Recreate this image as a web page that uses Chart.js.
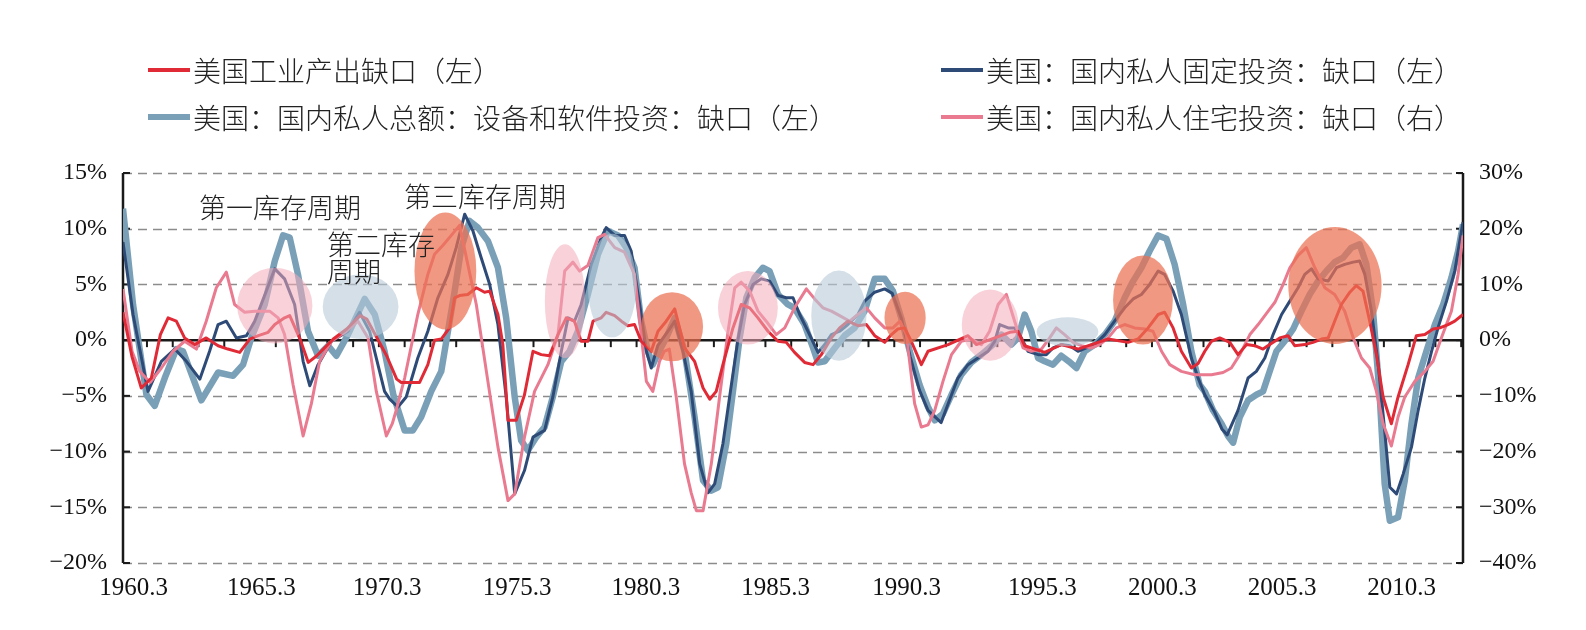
<!DOCTYPE html>
<html>
<head>
<meta charset="utf-8">
<script src="https://cdn.jsdelivr.net/npm/chart.js@4.4.1/dist/chart.umd.min.js"></script>
<style>
  body { margin: 0; background: #fff; }
  #wrap { position: relative; width: 1586px; height: 630px; }
  .leg { position: absolute; display: flex; align-items: center; font-family: "Noto Sans CJK SC", sans-serif; font-weight: 300; font-size: 28px; color: #222; white-space: nowrap; }
  .leg i { display: inline-block; width: 42px; margin-right: 3px; }
</style>
</head>
<body>
<div id="wrap">
  <canvas id="chart" width="1586" height="630"></canvas>
  <div class="leg" style="left:148px; top:50px;"><i style="height:4px;background:#e02a36"></i>美国工业产出缺口（左）</div>
  <div class="leg" style="left:941px; top:50px;"><i style="height:4px;background:#2e4b78"></i>美国：国内私人固定投资：缺口（左）</div>
  <div class="leg" style="left:148px; top:97px;"><i style="height:6px;background:#7aa0b8"></i>美国：国内私人总额：设备和软件投资：缺口（左）</div>
  <div class="leg" style="left:941px; top:97px;"><i style="height:4px;background:#e97a90"></i>美国：国内私人住宅投资：缺口（右）</div>
</div>
<script>
// quarters as decimal years: 1960.0 = "1960.3"
const xTickLabels = ['1960.3', '1965.3', '1970.3', '1975.3', '1980.3', '1985.3', '1990.3', '1995.3', '2000.3', '2005.3', '2010.3'];
// where the reference prints those labels along the time axis
const xTickAt = [1960.16, 1965.12, 1970.0, 1975.04, 1980.04, 1985.08, 1990.16, 1995.43, 2000.08, 2004.73, 2009.37];

// 美国工业产出缺口（左）
const redDates = [
  1959.75, 1960.1, 1960.46, 1960.85, 1961.2, 1961.5, 1961.82, 1962.14, 1962.53, 1962.98, 1963.44, 1963.82, 1964.28, 1964.67, 1965.0, 1965.38, 1965.64, 1966.02, 1966.22, 1966.62, 1966.94, 1967.27, 1967.91, 1968.43, 1968.95, 1969.21, 1969.98,
  1970.37, 1970.55, 1971.26, 1971.58, 1971.84, 1972.1, 1972.42, 1972.62, 1972.81, 1973.13, 1973.46, 1973.78, 1973.98, 1974.3, 1974.49, 1974.69, 1975.01, 1975.33, 1975.66, 1975.98, 1976.3, 1976.63, 1976.95, 1977.27, 1977.53, 1977.79, 1977.99, 1978.31, 1978.5, 1978.83, 1979.09, 1979.34, 1979.6, 1979.86,
  1980.25, 1980.51, 1980.83, 1981.16, 1981.54, 1981.93, 1982.26, 1982.52, 1982.77, 1983.03, 1983.42, 1983.74, 1984.07, 1984.39, 1984.78, 1985.17, 1985.49, 1985.81, 1986.2, 1986.53, 1986.85, 1987.24, 1987.56, 1987.88, 1988.27, 1988.6, 1988.92, 1989.31, 1989.57, 1989.82,
  1990.08, 1990.34, 1990.73, 1990.99, 1991.77, 1992.54, 1992.87, 1993.58, 1994.16, 1994.48, 1994.74, 1995.52, 1996.16, 1996.81, 1997.59, 1997.98, 1998.75, 1999.14, 1999.53, 1999.92,
  2000.17, 2000.5, 2000.82, 2001.21, 2001.47, 2001.73, 2001.99, 2002.31, 2002.7, 2003.02, 2003.35, 2003.67, 2003.99, 2004.25, 2004.64, 2004.96, 2005.22, 2005.61, 2005.93, 2006.26, 2006.52, 2006.77, 2007.03, 2007.36, 2007.61, 2007.87, 2008.13, 2008.39, 2008.65, 2008.97, 2009.23, 2009.62, 2009.94,
  2010.27, 2010.59, 2010.85, 2011.17, 2011.43, 2011.75
];
const redValues = [
  2.5, -1.5, -4.3, -3.4, 0.5, 2.0, 1.7, 0.2, -0.4, 0.2, -0.5, -0.8, -1.1, 0.1, 0.4, 0.7, 1.4, 2.0, 2.2, 0.1, -2.0, -1.4, 0.1, 1.0, 2.2, 1.9, -1.4,
  -3.5, -3.8, -3.8, -2.2, 0.0, 0.1, 1.1, 3.8, 4.0, 4.1, 4.7, 4.3, 4.4, 2.3, -0.4, -7.2, -7.2, -4.9, -1.0, -1.3, -1.4, 0.5, 2.0, 1.7, -0.1, -0.1, 1.7, 2.0, 2.5, 2.2, 1.7, 1.3, 1.4, -0.1,
  -1.0, 0.8, 1.7, 2.8, -0.7, -1.9, -4.3, -5.3, -4.6, -2.2, 1.1, 3.2, 2.9, 2.0, 0.8, -0.1, -0.2, -1.1, -2.0, -2.2, -1.3, 0.2, 1.1, 1.7, 1.3, 1.4, 0.4, -0.2, 0.5, 1.0,
  1.1, -0.1, -2.2, -1.0, -0.4, 0.4, -0.4, 0.2, 0.7, 0.8, -0.5, -1.1, -0.4, -0.8, -0.2, 0.1, -0.2, 0.1, 1.1, 2.3,
  2.5, 1.1, -1.0, -2.5, -2.1, -1.0, -0.1, 0.2, -0.2, -1.3, -0.4, -0.5, -0.8, -0.4, 0.2, 0.4, -0.5, -0.4, -0.2, 0.1, 0.2, 1.7, 3.2, 4.3, 4.9, 4.4, 1.7, -1.3, -5.1, -7.5, -5.1, -2.2, 0.4,
  0.5, 1.0, 1.1, 1.4, 1.7, 2.3
];

// 美国：国内私人固定投资：缺口（左）
const navyDates = [
  1959.75, 1960.14, 1960.72, 1961.24, 1961.76, 1962.21, 1962.73, 1963.11, 1963.44, 1963.76, 1964.15, 1964.54, 1964.86, 1965.31, 1965.64, 1966.02, 1966.41, 1966.74, 1967.0, 1967.32, 1967.84, 1968.48, 1968.93, 1969.32, 1969.9,
  1970.1, 1970.42, 1970.74, 1971.19, 1971.58, 1971.97, 1972.36, 1972.68, 1973.01, 1973.33, 1973.65, 1973.98, 1974.3, 1974.62, 1974.95, 1975.33, 1975.66, 1976.11, 1976.43, 1976.76, 1977.02, 1977.27, 1977.53, 1977.92, 1978.31, 1978.5, 1978.83, 1979.21, 1979.47, 1979.8,
  1980.06, 1980.25, 1980.5, 1980.9, 1981.16, 1981.48, 1981.8, 1982.13, 1982.45, 1982.71, 1983.03, 1983.29, 1983.61, 1983.87, 1984.2, 1984.52, 1984.84, 1985.17, 1985.49, 1985.75, 1986.01, 1986.33, 1986.72, 1986.98, 1987.24, 1987.56, 1987.88, 1988.27, 1988.53, 1988.92, 1989.31, 1989.6, 1989.95,
  1990.3, 1990.66, 1990.99, 1991.5, 1991.77, 1992.15, 1992.54, 1992.93, 1993.32, 1993.58, 1993.77, 1994.1, 1994.35, 1994.61, 1994.87, 1995.26, 1995.58, 1995.84, 1996.16, 1996.49, 1996.81, 1997.13, 1997.46, 1997.85, 1998.23, 1998.62, 1998.95, 1999.27, 1999.59, 1999.92,
  2000.17, 2000.5, 2000.82, 2001.21, 2001.47, 2001.73, 2002.12, 2002.4, 2002.6, 2003.02, 2003.41, 2003.73, 2004.06, 2004.38, 2004.71, 2005.03, 2005.35, 2005.61, 2005.87, 2006.13, 2006.52, 2006.84, 2007.16, 2007.49, 2007.74, 2007.94, 2008.2, 2008.46, 2008.71, 2008.91, 2009.17, 2009.43, 2009.75,
  2010.01, 2010.27, 2010.53, 2010.78, 2011.11, 2011.43, 2011.75
];
const navyValues = [
  8.8, 2.3, -4.6, -1.9, -0.8, -1.9, -3.5, -1.0, 1.4, 1.7, 0.2, 0.4, 1.7, 4.4, 6.4, 5.5, 3.2, -1.9, -4.1, -2.2, -0.1, 0.8, 2.5, 0.8, -4.6,
  -5.3, -6.0, -5.1, -1.6, 0.8, 3.8, 5.9, 8.3, 11.3, 9.8, 7.4, 5.0, 1.4, -5.1, -13.8, -11.7, -8.7, -8.1, -5.1, -1.0, 2.0, 1.7, 3.2, 6.8, 9.2, 10.1, 9.4, 9.4, 8.0, 3.2,
  -1.0, -2.5, -0.5, 0.8, 1.7, -1.0, -4.6, -11.1, -13.7, -12.9, -9.3, -5.1, 0.0, 3.2, 5.0, 5.5, 5.3, 4.0, 3.8, 3.8, 2.3, 0.8, -1.1, -0.4, 0.5, 0.8, 1.4, 2.3, 3.5, 4.3, 4.6, 4.2, 2.0,
  -1.5, -4.5, -6.3, -7.4, -5.7, -3.4, -2.2, -1.6, -1.0, -0.1, 1.4, 1.1, 1.1, 0.2, -1.0, -1.3, -1.3, -0.7, -0.4, -0.5, -1.0, -0.7, -0.4, 0.5, 1.7, 2.9, 3.7, 4.1, 5.0, 6.2,
  5.9, 4.4, 2.3, -1.6, -3.4, -4.9, -6.5, -8.0, -8.5, -6.3, -3.4, -2.8, -1.6, 0.5, 2.3, 3.5, 4.7, 5.9, 6.4, 5.5, 5.3, 6.5, 6.8, 7.0, 7.1, 5.9, 2.6, -2.2, -8.1, -13.2, -13.8, -12.0, -9.6,
  -6.3, -3.4, -1.0, 1.1, 3.5, 6.2, 10.6
];

// 美国：国内私人总额：设备和软件投资：缺口（左）
const steelDates = [
  1959.75, 1960.14, 1960.66, 1960.98, 1961.37, 1961.82, 1962.08, 1962.79, 1963.44, 1964.02, 1964.41, 1964.73, 1965.25, 1965.64, 1965.96, 1966.22, 1966.54, 1966.93, 1967.32, 1967.71, 1968.03, 1968.48, 1969.13, 1969.52, 1969.9,
  1970.25, 1970.68, 1971.0, 1971.32, 1971.71, 1972.1, 1972.36, 1972.62, 1972.88, 1973.2, 1973.52, 1973.91, 1974.3, 1974.62, 1974.95, 1975.2, 1975.46, 1975.79, 1976.11, 1976.43, 1976.76, 1977.08, 1977.4, 1977.79, 1978.18, 1978.57, 1978.96, 1979.28, 1979.6, 1979.86,
  1980.12, 1980.31, 1980.6, 1980.83, 1981.16, 1981.54, 1981.93, 1982.26, 1982.58, 1982.84, 1983.16, 1983.42, 1983.68, 1983.94, 1984.26, 1984.58, 1984.84, 1985.17, 1985.55, 1985.8, 1986.2, 1986.53, 1986.72, 1986.98, 1987.37, 1987.75, 1988.14, 1988.53, 1988.92, 1989.31, 1989.63, 1989.95,
  1990.28, 1990.66, 1990.99, 1991.25, 1991.57, 1991.9, 1992.28, 1992.67, 1993.06, 1993.51, 1993.84, 1994.22, 1994.48, 1994.74, 1995.0, 1995.26, 1995.52, 1995.84, 1996.16, 1996.45, 1996.75, 1997.07, 1997.46, 1997.85, 1998.23, 1998.62, 1998.95, 1999.27, 1999.59, 1999.92,
  2000.24, 2000.56, 2000.89, 2001.21, 2001.53, 2001.73, 2002.05, 2002.38, 2002.63, 2002.83, 2003.09, 2003.41, 2003.73, 2003.99, 2004.25, 2004.51, 2004.83, 2005.16, 2005.48, 2005.8, 2006.13, 2006.45, 2006.77, 2007.1, 2007.42, 2007.74, 2008.0, 2008.26, 2008.52, 2008.71, 2008.91, 2009.23, 2009.49, 2009.75,
  2010.01, 2010.33, 2010.66, 2010.98, 2011.3, 2011.56, 2011.75
];
const steelValues = [
  11.8, 3.2, -4.9, -5.9, -3.4, -0.8, -1.0, -5.4, -2.9, -3.2, -2.2, 0.2, 3.2, 7.1, 9.4, 9.2, 5.9, 0.8, -1.4, -0.5, -1.4, 0.5, 3.7, 2.3, -1.0,
  -5.0, -8.1, -8.1, -6.9, -4.6, -2.8, 0.8, 4.4, 8.3, 10.7, 10.1, 8.9, 6.5, 2.0, -5.1, -9.0, -9.9, -8.7, -7.8, -5.1, -1.9, -1.0, 0.8, 4.1, 7.7, 9.8, 9.4, 8.3, 6.5, 1.7,
  -1.0, -2.2, -0.8, 0.2, 2.0, -1.0, -6.9, -12.6, -13.5, -13.2, -9.3, -4.6, 0.2, 3.8, 5.6, 6.5, 6.2, 4.1, 3.2, 2.9, 1.4, -0.7, -2.0, -1.9, -0.7, 0.4, 1.1, 2.6, 5.5, 5.5, 4.4, 2.0,
  -1.0, -4.0, -6.0, -7.2, -6.6, -4.9, -3.1, -2.0, -1.3, -0.4, 0.5, -0.4, 0.2, 2.3, 0.8, -1.6, -1.9, -2.2, -1.4, -1.9, -2.5, -1.0, -0.4, 0.5, 1.7, 3.8, 5.3, 6.5, 8.0, 9.4,
  9.1, 6.8, 3.2, -1.0, -4.0, -4.6, -6.3, -7.5, -8.6, -9.2, -6.9, -5.4, -4.9, -4.6, -2.8, -1.0, -0.1, 1.0, 2.6, 4.1, 5.3, 6.2, 7.0, 7.4, 8.3, 8.6, 6.8, 2.6, -5.1, -12.9, -16.2, -15.9, -12.6, -7.5,
  -3.4, -1.0, 1.4, 3.2, 5.6, 8.0, 10.4
];

// 美国：国内私人住宅投资：缺口（右）
const pinkDates = [
  1959.75, 1960.1, 1960.4, 1960.8, 1961.24, 1961.69, 1962.14, 1962.6, 1962.98, 1963.37, 1963.76, 1964.08, 1964.47, 1964.86, 1965.44, 1965.77, 1966.02, 1966.35, 1966.74, 1967.06, 1967.38, 1967.84, 1968.42, 1968.87, 1969.26, 1969.58, 1969.97,
  1970.2, 1970.35, 1970.68, 1971.19, 1971.58, 1971.84, 1972.16, 1972.49, 1972.81, 1973.13, 1973.46, 1973.91, 1974.3, 1974.69, 1974.95, 1975.33, 1975.72, 1976.24, 1976.63, 1976.89, 1977.21, 1977.47, 1977.79, 1978.18, 1978.44, 1978.83, 1979.21, 1979.6, 1979.86,
  1980.06, 1980.31, 1980.57, 1980.75, 1980.95, 1981.22, 1981.54, 1981.8, 1982.0, 1982.26, 1982.58, 1982.9, 1983.23, 1983.49, 1983.74, 1984.07, 1984.39, 1984.71, 1985.1, 1985.43, 1985.81, 1986.27, 1986.59, 1986.91, 1987.24, 1987.56, 1987.95, 1988.27, 1988.6, 1988.92, 1989.31, 1989.63, 1989.9,
  1990.15, 1990.47, 1990.73, 1990.99, 1991.25, 1991.57, 1991.9, 1992.28, 1992.67, 1993.06, 1993.38, 1993.71, 1994.03, 1994.35, 1994.68, 1995.0, 1995.39, 1995.71, 1995.97, 1996.29, 1996.62, 1996.94, 1997.33, 1997.65, 1997.98, 1998.3, 1998.62, 1999.01, 1999.4, 1999.72,
  2000.05, 2000.37, 2000.82, 2001.34, 2001.99, 2002.44, 2002.76, 2003.09, 2003.48, 2003.8, 2004.19, 2004.45, 2004.77, 2005.03, 2005.35, 2005.67, 2006.0, 2006.39, 2006.77, 2007.16, 2007.49, 2007.81, 2008.13, 2008.39, 2008.65, 2008.97, 2009.23, 2009.49, 2009.88,
  2010.27, 2010.59, 2010.91, 2011.3, 2011.56, 2011.75
];
const pinkValues = [
  9.2, -2.0, -5.6, -7.6, -5.0, -2.0, -0.2, -1.6, 3.4, 9.4, 12.2, 6.4, 5.0, 5.2, 5.2, 4.0, 1.0, -8.0, -17.2, -11.4, -3.8, -0.2, 1.6, 3.4, 0.4, -9.2, -17.2,
  -15.0, -12.6, -6.8, 4.6, 11.8, 15.4, 17.0, 18.8, 20.6, 13.6, 6.4, -7.4, -19.2, -28.8, -27.6, -17.4, -9.2, -4.4, 1.0, 12.4, 14.0, 12.4, 13.4, 18.4, 19.0, 16.6, 15.8, 11.8, 1.0,
  -7.4, -9.2, -3.8, -2.0, -1.6, -10.2, -22.2, -27.4, -30.6, -30.6, -22.2, -10.2, 1.6, 9.4, 10.4, 8.8, 5.2, 3.4, 1.0, 2.2, 5.8, 9.2, 7.4, 5.8, 5.2, 4.4, 3.4, 4.6, 5.8, 4.0, 2.2, 2.2, 3.4,
  1.0, -11.4, -15.6, -15.2, -12.6, -7.4, -2.6, -0.2, 0.2, -0.8, 1.6, 6.4, 8.2, 3.4, -1.4, -2.0, -1.6, 0.4, 2.2, 1.0, -0.4, -1.0, -1.4, -0.8, 0.4, 2.2, 2.8, 2.2, 2.0, 1.6,
  -2.0, -4.4, -5.6, -6.2, -6.2, -5.8, -5.0, -2.6, 1.0, 2.8, 5.2, 6.8, 10.0, 13.0, 15.2, 16.6, 13.0, 9.4, 8.2, 5.2, 0.4, -3.2, -5.0, -9.2, -15.0, -19.0, -13.8, -10.2, -7.4,
  -5.6, -3.8, 0.4, 5.2, 11.8, 18.8
];

// shaded cycle bubbles (left-axis units)
const bubbleDates  = [1965.64, 1968.97, 1972.26, 1976.9, 1978.73, 1981.06, 1984.0, 1987.53, 1990.1, 1993.4, 1996.4, 1999.33, 2006.78];
const bubbleValues = [3.1, 3.0, 6.2, 3.5, 4.9, 1.2, 2.9, 2.2, 2.0, 1.35, 0.75, 3.6, 4.9];
const bubbleRadX   = [1.46, 1.47, 1.2, 0.78, 0.94, 1.2, 1.16, 1.07, 0.8, 1.1, 1.2, 1.16, 1.81];
const bubbleRadY   = [3.4, 2.9, 5.25, 5.1, 4.65, 3.1, 3.3, 4.05, 2.35, 3.2, 1.3, 4.0, 5.25];
const bubbleKinds  = ['pink', 'grey', 'orange', 'pink', 'grey', 'orange', 'pink', 'grey', 'orange', 'pink', 'grey', 'orange', 'orange'];

// cycle labels
const noteTexts  = ['第一库存周期', '第二库存', '周期', '第三库存周期'];
const noteDates  = [1965.84, 1967.67, 1967.67, 1973.8];
const noteValues = [11.9, 8.6, 6.1, 12.9];
const noteAlign  = ['center', 'left', 'left', 'center'];

const bubbleColors = {
    pink: 'rgba(243, 172, 186, 0.55)',
    grey: 'rgba(183, 202, 217, 0.6)',
    orange: 'rgba(236, 112, 82, 0.72)'
};

const pts = (ds, vs) => ds.map((d, i) => ({ x: d, y: vs[i] }));

// grid, zero line, axis lines (under the data); bubbles and notes (over it)
const frame = {
    id: 'frame',
    beforeDatasetsDraw(chart) {
        const { ctx, chartArea: a, scales: { x, y } } = chart;
        ctx.save();
        ctx.strokeStyle = '#8c8c8c';
        ctx.lineWidth = 1.3;
        ctx.setLineDash([9, 6]);
        for (let v = -20; v <= 15; v += 5) {
            if (v === 0) continue;
            const py = Math.round(y.getPixelForValue(v)) + 0.5;
            ctx.beginPath(); ctx.moveTo(a.left, py); ctx.lineTo(a.right, py); ctx.stroke();
        }
        ctx.setLineDash([]);
        ctx.strokeStyle = '#1a1a1a';
        ctx.lineWidth = 2.5;
        const y0 = y.getPixelForValue(0);
        ctx.beginPath(); ctx.moveTo(a.left, y0); ctx.lineTo(a.right, y0); ctx.stroke();
        // year ticks on zero line
        ctx.lineWidth = 2;
        for (let yr = 1960; yr <= 2011; yr++) {
            const px = x.getPixelForValue(yr + 0.68);
            if (px > a.right) break;
            ctx.beginPath(); ctx.moveTo(px, y0); ctx.lineTo(px, y0 + 7); ctx.stroke();
        }
        // axis lines with inward ticks
        ctx.lineWidth = 2.5;
        ctx.beginPath(); ctx.moveTo(a.left, a.top); ctx.lineTo(a.left, a.bottom); ctx.stroke();
        ctx.beginPath(); ctx.moveTo(a.right, a.top); ctx.lineTo(a.right, a.bottom); ctx.stroke();
        ctx.lineWidth = 2;
        for (let v = -20; v <= 15; v += 5) {
            const py = y.getPixelForValue(v);
            ctx.beginPath(); ctx.moveTo(a.left, py); ctx.lineTo(a.left + 7, py); ctx.stroke();
            ctx.beginPath(); ctx.moveTo(a.right, py); ctx.lineTo(a.right - 7, py); ctx.stroke();
        }
        ctx.restore();
    },
    afterDatasetsDraw(chart) {
        const { ctx, scales: { x, y } } = chart;
        ctx.save();
        bubbleDates.forEach((d, i) => {
            const cx = x.getPixelForValue(d);
            const cy = y.getPixelForValue(bubbleValues[i]);
            const rx = Math.abs(x.getPixelForValue(d + bubbleRadX[i]) - cx);
            const ry = Math.abs(y.getPixelForValue(bubbleValues[i] + bubbleRadY[i]) - cy);
            ctx.fillStyle = bubbleColors[bubbleKinds[i]];
            ctx.beginPath();
            ctx.ellipse(cx, cy, rx, ry, 0, 0, Math.PI * 2);
            ctx.fill();
        });
        ctx.fillStyle = '#222';
        ctx.font = '300 27px "Noto Sans CJK SC", sans-serif';
        ctx.textBaseline = 'middle';
        noteTexts.forEach((t, i) => {
            ctx.textAlign = noteAlign[i];
            ctx.fillText(t, x.getPixelForValue(noteDates[i]), y.getPixelForValue(noteValues[i]));
        });
        ctx.restore();
    }
};

const fmtPct = v => (v < 0 ? '\u2212' + Math.abs(v) : v) + '%';

new Chart(document.getElementById('chart'), {
    type: 'line',
    data: {
        datasets: [
            { label: '美国工业产出缺口（左）', data: pts(redDates, redValues), borderColor: '#e02a36', borderWidth: 3, yAxisID: 'y', order: 1 },
            { label: '美国：国内私人住宅投资：缺口（右）', data: pts(pinkDates, pinkValues), borderColor: '#e97a90', borderWidth: 3, yAxisID: 'y2', order: 2 },
            { label: '美国：国内私人固定投资：缺口（左）', data: pts(navyDates, navyValues), borderColor: '#2e4b78', borderWidth: 3, yAxisID: 'y', order: 3 },
            { label: '美国：国内私人总额：设备和软件投资：缺口（左）', data: pts(steelDates, steelValues), borderColor: '#7aa0b8', borderWidth: 6.5, yAxisID: 'y', order: 4 }
        ]
    },
    options: {
        responsive: false,
        animation: false,
        events: [],
        parsing: false,
        elements: { point: { radius: 0 }, line: { tension: 0, borderJoinStyle: 'round' } },
        layout: { padding: { top: 173, left: 0, right: 0, bottom: 0 } },
        plugins: { legend: { display: false }, tooltip: { enabled: false } },
        scales: {
            x: {
                type: 'linear',
                min: 1959.75,
                max: 2011.75,
                grid: { display: false, drawTicks: false },
                border: { display: false },
                afterBuildTicks: s => { s.ticks = xTickAt.map(v => ({ value: v })); },
                afterFit: s => { s.height = 67; },
                ticks: {
                    autoSkip: false,
                    maxRotation: 0,
                    padding: 10,
                    color: '#111',
                    font: { family: '"Liberation Serif", serif', size: 25 },
                    callback: (v, i) => xTickLabels[i]
                }
            },
            y: {
                position: 'left',
                min: -20,
                max: 15,
                grid: { display: false, drawTicks: false },
                border: { display: false },
                afterFit: s => { s.width = 123; },
                ticks: {
                    stepSize: 5,
                    padding: 16,
                    color: '#111',
                    font: { family: '"Liberation Serif", serif', size: 24 },
                    callback: fmtPct
                }
            },
            y2: {
                position: 'right',
                min: -40,
                max: 30,
                grid: { display: false, drawTicks: false },
                border: { display: false },
                afterFit: s => { s.width = 123; },
                ticks: {
                    stepSize: 10,
                    padding: 16,
                    color: '#111',
                    font: { family: '"Liberation Serif", serif', size: 24 },
                    callback: fmtPct
                }
            }
        }
    },
    plugins: [frame]
});
</script>
</body>
</html>
